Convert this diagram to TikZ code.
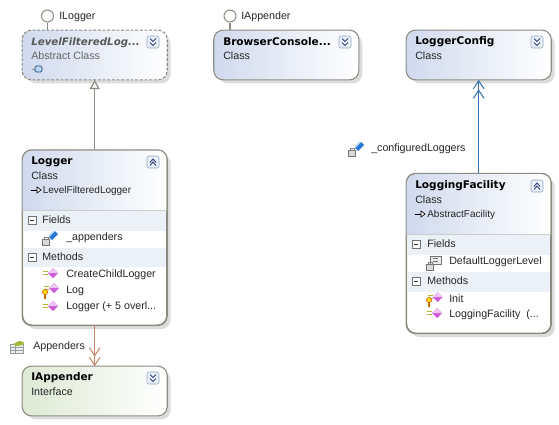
\documentclass[tikz,border=0pt]{standalone}
\usepackage{fontspec}
\setmainfont{Liberation Sans}
\newfontfamily\titlefont{DejaVu Sans}
\usetikzlibrary{arrows.meta,shadows}
\definecolor{boxline}{RGB}{140,140,130}
\definecolor{classblue}{RGB}{208,218,238}
\definecolor{ifacegreen}{RGB}{222,234,212}
\definecolor{bandblue}{RGB}{236,241,248}
\definecolor{togline}{RGB}{140,165,200}
\definecolor{tognavy}{RGB}{50,70,130}
\definecolor{assocbrown}{RGB}{200,135,105}
\definecolor{assocblue}{RGB}{50,115,175}
\definecolor{methodpink}{RGB}{205,90,215}
\definecolor{fieldblue}{RGB}{40,120,215}
\tikzset{
  classbox/.style={draw=boxline,line width=.8pt,fill=white,rounded corners=7pt,minimum width=108pt,inner sep=0pt,
    drop shadow={shadow xshift=3pt,shadow yshift=-3pt,fill=black!25,opacity=.55}},
  framebox/.style={draw=boxline,line width=.8pt,rounded corners=7pt},
  titletxt/.style={anchor=west,inner sep=0pt,font=\titlefont\bfseries\fontsize{7.9}{10}\selectfont},
  plaintxt/.style={anchor=west,inner sep=0pt,font=\fontsize{8}{10}\selectfont,text=black!85},
  basetxt/.style={anchor=west,inner sep=0pt,font=\fontsize{7.5}{10}\selectfont,text=black!85},
  bandrow/.style={fill=bandblue,draw=none},
  lolli/.style={circle,draw=boxline,line width=.8pt,fill=white,minimum size=9pt,inner sep=0pt},
  lollistem/.style={draw=boxline,line width=1pt},
  togdown/.pic={
    \draw[togline,fill=bandblue,rounded corners=1.5pt] (-6,-6) rectangle (6,6);
    \draw[tognavy,line width=.7pt] (-3,-3.5) -- (0,-.5) -- (3,-3.5);
    \draw[tognavy,line width=.7pt] (-3,.5) -- (0,3.5) -- (3,.5);},
  togup/.pic={
    \draw[togline,fill=bandblue,rounded corners=1.5pt] (-6,-6) rectangle (6,6);
    \draw[tognavy,line width=.7pt] (-3,.5) -- (0,-3) -- (3,.5);
    \draw[tognavy,line width=.7pt] (-3,3.5) -- (0,0) -- (3,3.5);},
  minusbox/.pic={
    \draw[black!55,fill=white,line width=.5pt] (-4,-4) rectangle (4,4);
    \draw[black!80,line width=.6pt] (-2,0) -- (2,0);},
  baseicon/.pic={
    \draw[black,line width=.5pt] (-5,0) -- (1,0);
    \draw[black,line width=.5pt,fill=white] (1,-3) -- (5,0) -- (1,3) -- cycle;},
  methodicon/.pic={
    \fill[methodpink] (0,-5) -- (5,0) -- (0,5) -- (-5,0) -- cycle;
    \fill[methodpink!35] (0,-5) -- (5,0) -- (0,0) -- (-5,0) -- cycle;
    \draw[black!30!yellow,line width=.5pt] (-10,-1.5) -- (-5,-1.5) (-10,1.5) -- (-5,1.5);},
  keyicon/.pic={
    \draw[orange!80!black,fill=yellow!80!orange,line width=.5pt] (0,-2) circle[radius=2.6];
    \draw[orange!80!black,line width=.8pt] (0,0.5) -- (0,5);},
  lockicon/.pic={
    \draw[black!55,fill=black!15,line width=.5pt] (-3.5,-1.5) rectangle (3.5,4);
    \draw[black!50,line width=.5pt] (-2,-1.5) -- (-2,-3.5) -- (2,-3.5) -- (2,-1.5);},
  cubeicon/.pic={
    \fill[fieldblue] (-4,1) -- (2,-5) -- (5,-2) -- (-1,4) -- cycle;
    \fill[fieldblue!35] (-4,1) -- (2,-5) -- (0,-5) -- (-4,-1) -- cycle;},
  consticon/.pic={
    \draw[black!55,fill=black!8,line width=.5pt] (-5,-4) rectangle (6,4);
    \draw[black!55,line width=.5pt] (-2,-1.5) -- (3,-1.5) (-2,1.5) -- (3,1.5);},
  abstracticon/.pic={
    \draw[black!45,line width=.5pt] (-6,0) -- (-3,0);
    \draw[fieldblue!60!black,fill=fieldblue!30,rounded corners=1pt,line width=.5pt] (-3,-3) rectangle (4,3);},
  tableicon/.pic={
    \draw[black!40,fill=bandblue,line width=.5pt] (-7,-3) rectangle (6,6);
    \draw[black!40,line width=.5pt] (-7,0) -- (6,0) (-7,3) -- (6,3) (-2,-3) -- (-2,6);
    \fill[yellow!70!green!80!black] (-4,-3) -- (2,-6) -- (7,-5) -- (6,-2) -- (0,-1) -- cycle;},
}
\begin{document}
\begin{tikzpicture}[x=0.75pt,y=-0.75pt]
  \useasboundingbox (0,0) rectangle (559,424);
  % Class boxes
  \node[classbox,minimum height=36.5pt] (levelfiltered) at (94.7,55) {};
  \node[classbox,minimum height=131pt] (logger) at (94.7,237.7) {};
  \node[classbox,minimum height=36.5pt] (iappender) at (94.7,391) {};
  \node[classbox,minimum height=36.5pt] (browserconsole) at (286.3,55) {};
  \node[classbox,minimum height=36.5pt] (loggerconfig) at (478.7,55) {};
  \node[classbox,minimum height=119.5pt] (loggingfacility) at (478.7,253.5) {};
  % Header gradients
  \shade[left color=classblue,right color=white,rounded corners=7pt] (levelfiltered.south west) rectangle (levelfiltered.north east);
  \shade[left color=classblue,right color=white,rounded corners=7pt] (browserconsole.south west) rectangle (browserconsole.north east);
  \shade[left color=classblue,right color=white,rounded corners=7pt] (loggerconfig.south west) rectangle (loggerconfig.north east);
  \shade[left color=ifacegreen,right color=white,rounded corners=7pt] (iappender.south west) rectangle (iappender.north east);
  \shade[left color=classblue,right color=white] (22.7,211) [rounded corners=7pt] -- (22.7,150.3) -- (166.7,150.3) [sharp corners] -- (166.7,211) -- cycle;
  \shade[left color=classblue,right color=white] (406.7,235) [rounded corners=7pt] -- (406.7,174) -- (550.7,174) [sharp corners] -- (550.7,235) -- cycle;
  % Compartment bands
  \fill[bandrow] (23.5,211) rectangle (166,231);
  \fill[bandrow] (23.5,248) rectangle (166,267);
  \fill[bandrow] (407.5,235) rectangle (550,255);
  \fill[bandrow] (407.5,272) rectangle (550,292);
  \draw[black!20] (23.5,210.5) -- (166,210.5);
  \draw[black!20] (407.5,234.5) -- (550,234.5);
  % Outlines on top of the gradients
  \draw[framebox,dash pattern=on 2.2pt off 1.3pt] (levelfiltered.south west) rectangle (levelfiltered.north east);
  \draw[framebox] (logger.south west) rectangle (logger.north east);
  \draw[framebox] (iappender.south west) rectangle (iappender.north east);
  \draw[framebox] (browserconsole.south west) rectangle (browserconsole.north east);
  \draw[framebox] (loggerconfig.south west) rectangle (loggerconfig.north east);
  \draw[framebox] (loggingfacility.south west) rectangle (loggingfacility.north east);
  % Lollipops
  \node[lolli] (iloggerdot) at (47.5,16) {};
  \node[lolli] (iappenderdot) at (230,16) {};
  \draw[lollistem] (iloggerdot) -- (iloggerdot |- levelfiltered.north);
  \draw[lollistem] (iappenderdot) -- (iappenderdot |- browserconsole.north);
  \node[plaintxt] (iloggerlabel) at (59,17) {ILogger};
  \node[plaintxt] (iappenderlabel) at (241,17) {IAppender};
  % Connectors
  \draw[boxline,line width=.9pt,-{Triangle[open,fill=white,length=7pt,width=7.5pt]}] (logger.north) -- (levelfiltered.south);
  \draw[assocbrown,line width=.8pt,-{Straight Barb[length=6pt,width=8pt]Straight Barb[length=6pt,width=8pt]}] (logger.south) -- (iappender.north);
  \draw[assocblue,line width=.8pt,-{Straight Barb[length=6pt,width=8pt]Straight Barb[length=6pt,width=8pt]}] (loggingfacility.north) -- (loggerconfig.south);
  \pic at (17,347) {tableicon};
  \node[plaintxt] (appenderslabel) at (33,347) {Appenders};
  \pic at (352,152) {lockicon};
  \pic at (359,147) {cubeicon};
  \node[plaintxt] (configuredlabel) at (371,149) {\_configuredLoggers};
  % LevelFilteredLogger
  \node[titletxt,font=\titlefont\bfseries\itshape\fontsize{7.7}{10}\selectfont,text=black!65] (levelfilteredname) at (31,43) {LevelFilteredLog...};
  \node[plaintxt,text=black!60] (levelfilteredkind) at (31,56) {Abstract Class};
  \pic at (38,69) {abstracticon};
  \pic at (153,42) {togdown};
  % BrowserConsole
  \node[titletxt] (browsername) at (223,42) {BrowserConsole...};
  \node[plaintxt] (browserkind) at (223,56) {Class};
  \pic at (345,42) {togdown};
  % LoggerConfig
  \node[titletxt] (configname) at (415,42) {LoggerConfig};
  \node[plaintxt] (configkind) at (415,56) {Class};
  \pic at (537,42) {togdown};
  % Logger
  \node[titletxt] (loggername) at (31,162) {Logger};
  \node[plaintxt] (loggerkind) at (31,175.5) {Class};
  \pic at (36,190) {baseicon};
  \node[basetxt] (loggerbase) at (42.5,190.5) {LevelFilteredLogger};
  \pic at (153,162) {togup};
  \pic at (32,220) {minusbox};
  \node[plaintxt] (loggerfields) at (42,220) {Fields};
  \pic at (46,241) {lockicon};
  \pic at (53,236) {cubeicon};
  \node[plaintxt] (loggerappenders) at (66,238) {\_appenders};
  \pic at (32,257) {minusbox};
  \node[plaintxt] (loggermethods) at (42,257) {Methods};
  \pic at (53,273) {methodicon};
  \node[plaintxt] (loggercreate) at (66,275) {CreateChildLogger};
  \pic at (54,288) {methodicon};
  \pic at (45,294) {keyicon};
  \node[plaintxt] (loggerlog) at (66,291) {Log};
  \pic at (53,306) {methodicon};
  \node[plaintxt] (loggerctor) at (66,307) {Logger (+ 5 overl...};
  % IAppender
  \node[titletxt] (iappendername) at (31,378) {IAppender};
  \node[plaintxt] (iappenderkind) at (31,392) {Interface};
  \pic at (153,378) {togdown};
  % LoggingFacility
  \node[titletxt] (facilityname) at (415,186) {LoggingFacility};
  \node[plaintxt] (facilitykind) at (415,200) {Class};
  \pic at (420,214) {baseicon};
  \node[basetxt] (facilitybase) at (427,214.5) {AbstractFacility};
  \pic at (537,186) {togup};
  \pic at (416,244) {minusbox};
  \node[plaintxt] (facilityfields) at (427,244) {Fields};
  \pic at (435,260) {consticon};
  \pic at (430,266) {lockicon};
  \node[plaintxt] (facilitylevel) at (449,262) {DefaultLoggerLevel};
  \pic at (416,281) {minusbox};
  \node[plaintxt] (facilitymethods) at (427,281) {Methods};
  \pic at (437.7,297) {methodicon};
  \pic at (429,302) {keyicon};
  \node[plaintxt] (facilityinit) at (449,299) {Init};
  \pic at (437,313) {methodicon};
  \node[plaintxt] (facilityctor) at (449,315) {LoggingFacility\ \ (...};
\end{tikzpicture}
\end{document}
